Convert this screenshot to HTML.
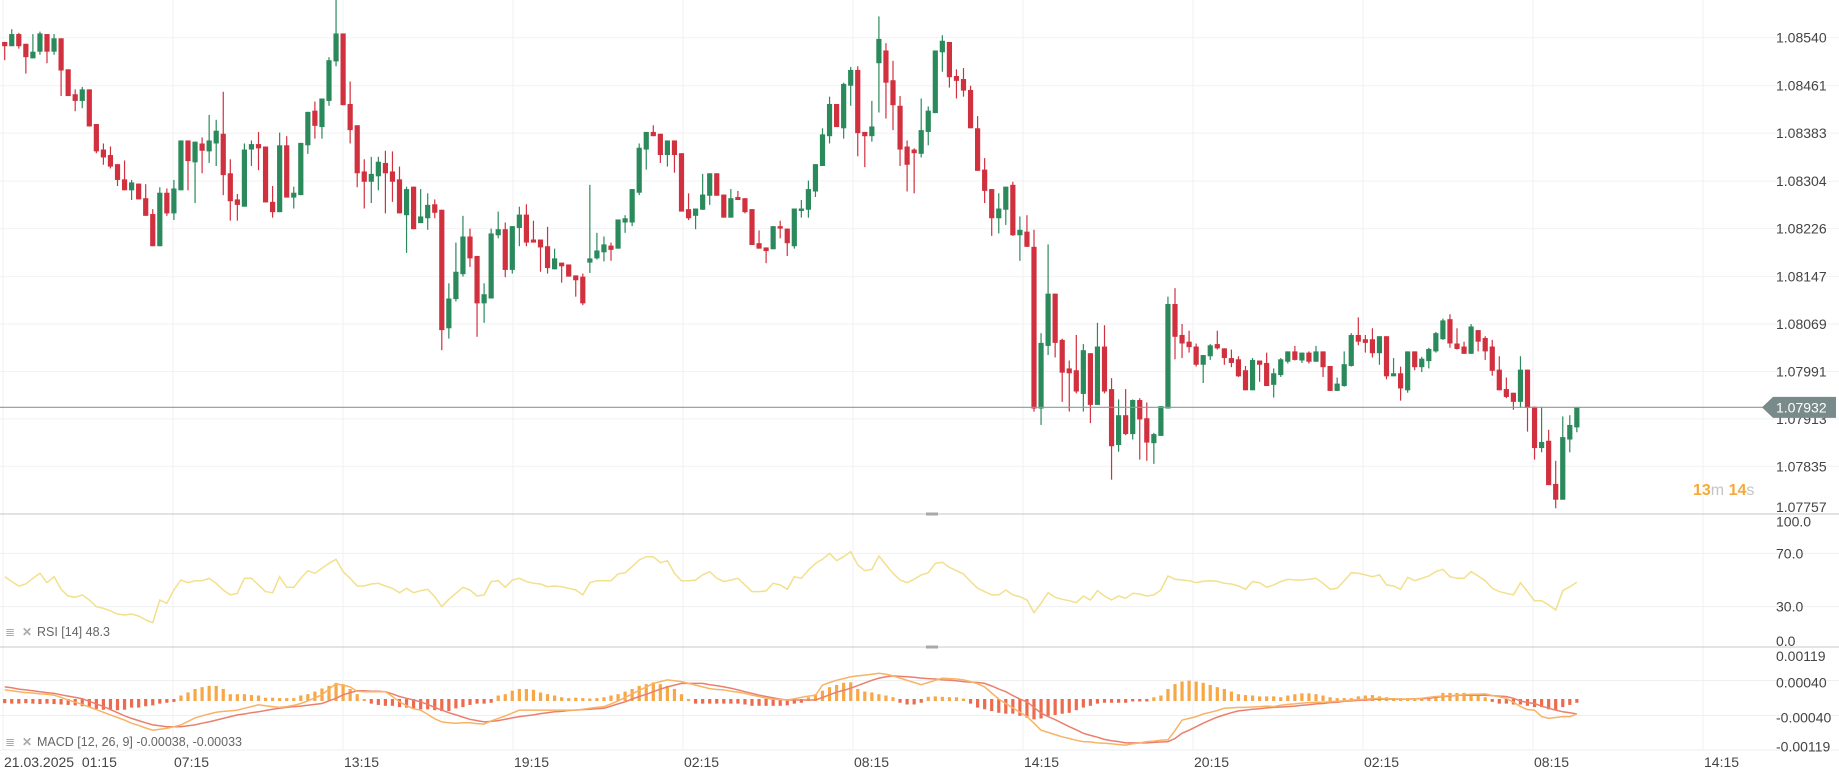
<!DOCTYPE html>
<html><head><meta charset="utf-8"><title>EURUSD chart</title>
<style>
html,body{margin:0;padding:0;background:#fff;}
#chart{position:relative;width:1839px;height:769px;overflow:hidden;font-family:"Liberation Sans",sans-serif;}
svg text{font-family:"Liberation Sans",sans-serif;}
</style></head>
<body>
<div id="chart">
<svg id="svg" width="1839" height="769" viewBox="0 0 1839 769"></svg>
</div>
<script>
const POINT = 1e-5;
const opens = [108533,108526,108546,108530,108506,108517,108546,108517,108539,108488,108447,108436,108455,108398,108356,108347,108332,108307,108289,108300,108276,108250,108197,108285,108251,108289,108371,108335,108366,108353,108366,108382,108317,108274,108262,108356,108365,108361,108270,108253,108363,108277,108281,108363,108420,108393,108436,108501,108547,108431,108396,108320,108303,108312,108334,108320,108307,108248,108295,108235,108243,108266,108257,108062,108110,108151,108213,108181,108103,108111,108215,108225,108158,108227,108249,108208,108208,108197,108159,108170,108167,108149,108147,108170,108177,108187,108198,108193,108236,108236,108285,108356,108385,108382,108347,108371,108350,108258,108247,108257,108280,108317,108282,108244,108278,108276,108258,108202,108195,108192,108230,108226,108197,108255,108257,108287,108329,108378,108431,108391,108461,108487,108385,108378,108498,108519,108470,108428,108361,108356,108349,108385,108416,108516,108533,108477,108472,108454,108391,108323,108291,108243,108257,108298,108215,108221,108196,107930,108033,108119,108043,107996,107993,107954,108021,107936,108032,107962,107870,107919,107888,107944,107914,107873,107885,107930,108102,108051,108040,108032,108002,108016,108036,108029,108013,108011,107993,107960,108009,108005,107969,107985,108007,108024,108009,108022,108007,108024,108000,107959,107967,108000,108051,108044,108044,108021,108049,107983,107988,107960,108024,107998,108008,108024,108044,108077,108037,108032,108020,108059,108046,108032,107994,107962,107956,107941,107994,107933,107865,107877,107806,107780,107879,107899];
const highs = [108533,108554,108548,108530,108546,108550,108546,108546,108539,108488,108455,108459,108455,108398,108366,108361,108332,108338,108306,108300,108299,108258,108294,108292,108306,108371,108371,108369,108376,108413,108405,108451,108340,108283,108366,108371,108385,108361,108296,108384,108378,108295,108367,108418,108435,108440,108508,108610,108547,108468,108396,108340,108344,108344,108354,108353,108328,108295,108295,108291,108284,108274,108257,108136,108203,108247,108226,108181,108136,108226,108254,108236,108230,108262,108266,108239,108208,108229,108193,108170,108167,108149,108152,108298,108219,108213,108203,108241,108248,108291,108366,108385,108396,108382,108371,108371,108350,108284,108259,108316,108317,108317,108282,108291,108288,108276,108258,108223,108195,108230,108239,108226,108259,108273,108305,108332,108391,108443,108431,108466,108492,108493,108385,108436,108575,108531,108502,108444,108371,108358,108440,108427,108519,108544,108533,108488,108490,108461,108411,108342,108291,108284,108295,108303,108246,108248,108224,108054,108200,108119,108045,108009,108051,108036,108021,108071,108067,107980,107945,107962,107945,107947,107940,107890,107934,108114,108128,108069,108058,108037,108018,108036,108058,108029,108027,108016,108000,108013,108009,108022,107996,108013,108024,108033,108022,108024,108033,108024,108000,107981,108024,108054,108080,108051,108062,108049,108049,108013,107999,108024,108024,108015,108030,108056,108078,108085,108062,108040,108069,108059,108049,108043,108016,107981,107956,108016,107994,107933,107933,107895,107844,107917,107919,107932];
const lows = [108503,108526,108522,108481,108506,108512,108498,108512,108444,108444,108419,108424,108394,108350,108331,108325,108296,108289,108273,108274,108247,108197,108197,108247,108240,108289,108289,108268,108317,108334,108329,108281,108239,108239,108262,108329,108322,108269,108244,108253,108277,108259,108281,108349,108374,108374,108428,108493,108429,108366,108294,108259,108268,108289,108251,108270,108251,108186,108225,108235,108224,108243,108026,108045,108106,108147,108163,108048,108071,108111,108210,108146,108152,108197,108197,108203,108155,108152,108159,108137,108147,108114,108100,108153,108175,108172,108173,108193,108219,108230,108281,108323,108378,108334,108328,108318,108254,108240,108225,108257,108265,108280,108244,108244,108273,108251,108199,108193,108169,108192,108210,108181,108193,108244,108244,108278,108329,108366,108393,108374,108428,108345,108327,108369,108417,108407,108388,108329,108287,108284,108343,108363,108416,108484,108458,108440,108443,108391,108321,108268,108214,108218,108232,108214,108173,108196,107925,107903,108018,108014,107941,107925,107955,107925,107906,107936,107955,107813,107859,107886,107879,107846,107844,107839,107885,107930,108011,108013,108022,107999,107972,108010,108027,108002,107998,107982,107960,107960,107974,107967,107948,107982,108004,108009,108005,108004,108007,107982,107959,107959,107966,107999,108034,108022,108014,108002,107978,107983,107943,107956,107993,107990,107996,108022,108043,108030,108027,108020,108020,108024,108010,107984,107960,107947,107928,107931,107892,107846,107858,107804,107766,107780,107858,107891];
const closes = [108526,108546,108526,108508,108517,108547,108517,108539,108486,108444,108436,108455,108394,108353,108343,108328,108306,108289,108302,108274,108247,108197,108285,108251,108292,108371,108337,108369,108354,108371,108387,108314,108271,108265,108356,108365,108358,108269,108253,108363,108277,108285,108367,108418,108395,108440,108503,108547,108429,108388,108317,108303,108316,108336,108317,108303,108251,108291,108225,108246,108265,108252,108059,108111,108155,108213,108177,108103,108118,108218,108225,108158,108230,108249,108203,108203,108195,108161,108177,108164,108147,108141,108103,108177,108190,108200,108191,108241,108243,108291,108359,108385,108378,108347,108371,108347,108254,108243,108259,108282,108317,108280,108244,108276,108273,108253,108199,108193,108189,108230,108226,108202,108259,108259,108291,108332,108381,108431,108393,108464,108487,108383,108378,108394,108538,108466,108429,108356,108331,108350,108388,108420,108519,108535,108475,108469,108453,108391,108321,108288,108243,108259,108295,108215,108224,108196,107930,108038,108119,108038,107989,107988,107958,108026,107936,108032,107958,107868,107919,107888,107944,107912,107874,107888,107934,108102,108048,108037,108031,108002,108018,108034,108029,108013,108005,107983,107960,108010,108002,107967,107988,108011,108024,108010,108022,108007,108024,107998,107959,107971,108003,108051,108040,108038,108021,108049,107983,107988,107963,108024,107998,108012,108028,108054,108075,108037,108028,108020,108065,108040,108024,107992,107960,107949,107941,107994,107931,107865,107875,107804,107780,107883,107903,107932];
const rsiValues = [52.5,48.8,45.5,47,51.3,55,48,52.5,43,38,37,38.8,35,30,28.8,26.8,24.5,23.8,24.5,23,20,18,35,32.5,42.5,50,48,49.5,49.5,51.3,47.5,42.5,38.8,40,51.3,51.3,46.3,41.3,40.5,52.5,44.5,44.5,51.3,57,55,58.8,62.5,65.5,56.3,51.3,45.5,45.5,47,47.5,45.5,43.8,40.5,43.8,40.5,42,43,37.5,30,35.5,40,44.5,42.5,38,38.8,48.8,49.5,44.5,50,51.3,48.8,47.5,47,45,45.5,45,43.8,42.5,38.8,48,49.5,49.5,49.5,54.5,55.5,60,65,67.5,67.5,63,64.5,55,49.3,49.3,50,53.8,56.3,51.3,48.8,50,51.3,46.3,41.3,41.3,41.8,47.5,46.3,43,52.5,51.3,57.5,62.5,65.5,70,64.5,67.5,71.3,61.3,57,58,68,61.3,55,50,48,50.5,53.8,55.5,62.5,63.3,59.5,57,54.5,48.8,43.8,41.3,38.8,38.8,42.5,38.8,37.5,35,25.5,32.5,40.5,37,35.5,34.5,33,38,35,42,38,35,38,36.3,40,39.5,38,38.8,42.5,53,50.5,50,49.5,48,49,49.5,49,47.5,47,45.5,43,48.8,48,44.5,46.3,48.8,50.5,50,50,50.5,51.3,47.5,43,43.8,49.5,55.5,55,53.8,52.5,53.8,46.3,45.5,43,52,49.5,51.3,53,56.3,58,52.5,51.3,51.3,56.3,53,49.5,43.8,41.3,40,38.8,48,41.3,34.5,34.5,31.3,27.5,42,45,48.3];
const MACD_UNIT = 1e-4;
const macdValues = [2.3,2.1,1.9,1.7,1.6,1.4,1.3,1.1,0.6,0,-0.5,-1,-1.6,-2.2,-2.8,-3.4,-4,-4.6,-5.3,-5.8,-6.4,-6.9,-6.7,-6.5,-6.1,-5.7,-4.9,-4.1,-3.6,-3.2,-2.8,-2.6,-2.5,-2.3,-1.9,-1.5,-1.1,-1.3,-1.5,-1.7,-1.5,-1.2,-0.8,-0.2,0.5,1.2,2.5,3.7,3.4,3,2,1.9,1.9,1.9,1.9,0.8,-0.4,-1.3,-2,-2.3,-3.3,-4.3,-5,-5.2,-5.3,-5.2,-5.2,-5.4,-5.5,-4.8,-4.2,-3.6,-3,-2.3,-2.3,-2.3,-2.3,-2.3,-2.3,-2.3,-2.3,-2.3,-2.1,-1.9,-1.7,-1.5,-0.9,-0.2,0.6,1.4,2.2,3,3.8,4.2,4.6,4.4,4.2,3.8,3.4,3,2.6,2.4,2.3,2,1.8,1.5,1.1,0.8,0.4,0.2,0.1,0,0.3,0.6,0.9,1.1,3.4,4,4.5,4.9,5.3,5.5,5.7,5.9,6.1,5.9,5.5,5,4.5,4,3.5,4,4.5,5,4.9,4.8,4.6,4.2,3.7,3,1.6,0.2,-0.8,-1.8,-2.8,-3.8,-5.3,-6.9,-7.4,-7.9,-8.4,-8.8,-9.2,-9.5,-9.6,-9.8,-9.9,-10,-10.2,-10.3,-10,-9.8,-9.5,-9.4,-9.2,-9.1,-7,-4.6,-4.2,-3.8,-3.2,-2.8,-2.4,-1.9,-1.8,-1.7,-1.7,-1.6,-1.5,-1.4,-1.5,-1.2,-1,-0.9,-0.7,-0.6,-0.5,-0.5,-0.4,-0.3,-0.2,0,0.1,0.2,0.3,0.4,0.3,0.3,0.2,0.2,0.3,0.4,0.6,0.8,0.9,1,1.1,1.2,1.3,1.3,1.4,1,0.7,0.4,-0.5,-1.5,-2.2,-2.3,-3.8,-4.2,-4,-3.8,-3.8,-3.2];
const signalValues = [3,2.8,2.5,2.3,2.1,1.9,1.7,1.5,1.2,0.9,0.6,0.3,-0.3,-0.9,-1.5,-2.2,-2.9,-3.6,-4.2,-4.7,-5.2,-5.7,-5.9,-6.1,-6.1,-6.1,-5.9,-5.7,-5.3,-5,-4.6,-4.2,-3.8,-3.4,-3.2,-2.9,-2.7,-2.4,-2.1,-1.9,-1.7,-1.5,-1.4,-1.2,-1,-0.8,-0.2,0.4,1.2,1.7,2.1,2.1,2,2,1.9,1.4,0.8,0.4,0,-0.4,-1,-1.7,-2.3,-2.9,-3.4,-3.9,-4.4,-4.7,-5,-4.9,-4.7,-4.4,-4.1,-3.8,-3.6,-3.4,-3.1,-2.9,-2.7,-2.6,-2.4,-2.3,-2.2,-2.1,-2,-1.9,-1.4,-0.9,-0.4,0.2,0.8,1.3,1.9,2.5,3,3.4,3.8,3.8,3.8,3.8,3.5,3.3,3,2.7,2.3,1.9,1.5,1.1,0.8,0.5,0.2,0,0,0,0,0,0.6,1.2,1.8,2.2,2.7,3.3,3.9,4.5,5,5.3,5.5,5.4,5.3,5.2,5,4.9,4.8,4.6,4.5,4.4,4.2,4.1,4,3.8,3.2,2.5,1.9,1,0.2,-0.4,-1.7,-3,-3.8,-4.5,-5.3,-6.1,-6.8,-7.6,-8.1,-8.5,-9,-9.3,-9.5,-9.8,-9.8,-9.8,-9.8,-9.7,-9.6,-9.5,-8.8,-7.6,-6.9,-6.1,-5.3,-4.6,-3.9,-3.4,-2.9,-2.5,-2.3,-2.1,-2,-1.8,-1.7,-1.6,-1.5,-1.4,-1.2,-1.1,-0.9,-0.8,-0.6,-0.5,-0.3,-0.2,-0.1,0,0.1,0.2,0.2,0.2,0.2,0.2,0.3,0.3,0.4,0.6,0.8,0.9,1.1,1.1,1.1,1.1,1.1,1,0.9,0.8,0.4,-0.2,-0.6,-0.8,-1.4,-1.9,-2.3,-2.7,-2.9,-3.2];
const histValues = [-0.5,-0.6,-0.6,-0.5,-0.6,-0.7,-0.6,-0.7,-0.8,-0.9,-1,-1.2,-1.4,-1.8,-2,-2.1,-2.1,-2,-1.5,-1.5,-1.2,-1,-0.6,-0.4,-0.2,0.8,1.5,2.3,2.7,3,3,2.3,1.1,1.1,1.1,0.9,0.8,0.3,0.3,0.2,0.2,0.2,0.8,1.1,1.7,2.4,3,3.7,3.4,2.3,1.1,0,-0.6,-0.9,-1.1,-1.1,-1.4,-1.5,-1.7,-1.9,-1.9,-2.1,-2.3,-2.3,-1.7,-1.4,-0.9,-0.6,-0.6,-0.4,0.8,1.1,1.9,2.3,2.3,2.1,1.5,1.1,0.8,0.4,0.2,0.3,0.2,0.1,0.2,0.4,0.8,1.1,1.7,2.3,3,3.4,3.8,3.4,3,2.3,1.1,0,-0.6,-0.6,-0.6,-0.6,-0.6,-0.6,-0.6,-0.8,-1.1,-1.1,-1.1,-1.1,-1.1,-1,-0.6,-0.4,0.4,1.1,1.9,2.7,3.2,3.7,3.8,2.3,1.7,1.5,1.1,0.8,0.4,-0.4,-0.8,-0.8,-0.4,0.5,0.6,0.5,0.4,0.4,0.1,-0.6,-1.5,-1.9,-2.3,-2.7,-2.9,-2.9,-3.4,-3.8,-4.2,-4,-3.4,-3.2,-2.9,-2.7,-2.1,-1.5,-1.1,-0.6,-0.4,-0.4,-0.4,-0.4,-0.1,-0.1,-0.1,0.4,0.8,2.3,3.4,4,4.2,4,3.7,3.2,2.7,2.3,1.7,1.1,0.9,0.8,0.6,0.6,0.6,0.4,0.8,1.1,1.3,1.3,1.1,0.8,0.4,0.2,0.2,0.2,0.6,0.8,0.9,0.6,0.4,0.2,0.2,0.2,0.2,0.2,0.2,0.6,1.4,1.4,1.4,1.4,1.1,0.8,0.4,-0.2,-0.6,-0.6,-0.8,-0.8,-1.1,-1.4,-1.4,-1.9,-2.1,-1.4,-0.9,-0.4];
const priceTicks = [1.08540,1.08461,1.08383,1.08304,1.08226,1.08147,1.08069,1.07991,1.07913,1.07835,1.07757];
const rsiTicks = [100,70,30,0];
const macdTicks = [0.00119,0.00040,-0.00040,-0.00119];
const timeLabels = ["21.03.2025  01:15","07:15","13:15","19:15","02:15","08:15","14:15","20:15","02:15","08:15","14:15"];
const currentPrice = 1.07932;

const NS = "http://www.w3.org/2000/svg";
const svg = document.getElementById('svg');
function mk(tag, attrs, parent){const e=document.createElementNS(NS,tag);for(const k in attrs)e.setAttribute(k,attrs[k]);(parent||svg).appendChild(e);return e;}
// axis functions
const xC = i => 4.7 + i*7.05;
const yP = p => 37.7 + (1.0854 - p)*60792;
const yR = v => 646.7 - v*1.334;
const yM = v => 700 - v*43750;
const xGrid = k => 3 + k*170;

// gridlines
const grid = mk('g',{});


for(let k=0;k<timeLabels.length;k++){
  const l=mk('line',{x1:xGrid(k),x2:xGrid(k),y1:0,y2:750,stroke:'#f1f2f4','stroke-width':1},grid);
  
  
}
priceTicks.forEach(p=>{const l=mk('line',{x1:0,x2:1839,y1:yP(p),y2:yP(p),stroke:'#f1f2f4'},grid);
  
  });
[70,30].forEach(v=>{const l=mk('line',{x1:0,x2:1839,y1:yR(v),y2:yR(v),stroke:'#eeeff1'},grid);
  
  });
[0.0004,-0.0004].forEach(v=>{const l=mk('line',{x1:0,x2:1839,y1:yM(v)-2,y2:yM(v)-2,stroke:'#eeeff1'},grid);
  
  });

// panel separators
[514,647,750].forEach((y,i)=>{const l=mk('line',{x1:0,x2:1839,y1:y,y2:y,stroke: i<2?'#d0d3d6':'#f1f2f4','stroke-width':1.2});
  
  });
[514,647].forEach(y=>{const r=mk('rect',{x:926,y:y-1.5,width:12,height:3,fill:'#a9a9a9'});
  
  });

// candles
const cg = mk('g',{});


for(let i=0;i<closes.length;i++){
  const o=opens[i]*POINT,h=highs[i]*POINT,l=lows[i]*POINT,c=closes[i]*POINT;
  const up=c>=o, col=up?'#2b8a5c':'#d1303f';
  const g=mk('g',{},cg);
  
  
  const x=xC(i);
  mk('line',{x1:x,x2:x,y1:yP(h),y2:yP(l),stroke:col,'stroke-width':1.2},g);
  const top=yP(Math.max(o,c)), bot=yP(Math.min(o,c));
  mk('rect',{x:x-2.6,y:top,width:5.2,height:Math.max(1.5,bot-top),fill:col},g);
}

// current price line
const cpl=mk('line',{x1:0,x2:1764,y1:yP(currentPrice),y2:yP(currentPrice),stroke:'#8a9a9a','stroke-width':1.2});



// price axis labels
const pa=mk('g',{});


priceTicks.forEach(p=>{const t=mk('text',{x:1776,y:Math.min(yP(p),507)+5,'font-size':14,fill:'#444'},pa);t.textContent=p.toFixed(5);
  
  });
// current price badge
const cy=yP(currentPrice);
const badge=mk('polygon',{points:`1762,${cy} 1773,${cy-10.5} 1836,${cy-10.5} 1836,${cy+10.5} 1773,${cy+10.5}`,fill:'#798a8a'});


const bt=mk('text',{x:1776,y:cy+5,'font-size':14,fill:'#fff'});bt.textContent=currentPrice.toFixed(5);


// countdown
const cd=mk('text',{x:1693,y:495,'font-size':16,'font-weight':'bold'});


cd.innerHTML='<tspan fill="#f5a93a">13</tspan><tspan fill="#c4c4c4" font-weight="normal">m </tspan><tspan fill="#f5a93a">14</tspan><tspan fill="#c4c4c4" font-weight="normal">s</tspan>';

// RSI
let d='';rsiValues.forEach((v,i)=>{d+=(i?'L':'M')+xC(i).toFixed(1)+' '+yR(v).toFixed(1);});
const rl=mk('path',{d:d,fill:'none',stroke:'#f2e08c','stroke-width':1.5});


rsiTicks.forEach(v=>{const y=Math.min(Math.max(yR(v),521.6),641);const t=mk('text',{x:1776,y:y+5,'font-size':14,fill:'#444'});t.textContent=v.toFixed(1);
  
  });

// MACD histogram
const hg=mk('g',{});


histValues.forEach((v,i)=>{const y0=yM(0),y1=yM(v*MACD_UNIT);const r=mk('rect',{x:xC(i)-1.6,y:Math.min(y0,y1)-1,width:3.2,height:Math.abs(y1-y0)+2,fill:v>=0?'#f7a745':'#ec6b4e'},hg);
  
  });
function linePath(arr){let s='';arr.forEach((v,i)=>{s+=(i?'L':'M')+xC(i).toFixed(1)+' '+yM(v*MACD_UNIT).toFixed(1);});return s;}
const sl=mk('path',{d:linePath(signalValues),fill:'none',stroke:'#e9806e','stroke-width':1.5});


const ml=mk('path',{d:linePath(macdValues),fill:'none',stroke:'#f8b366','stroke-width':1.5});


macdTicks.forEach(v=>{const y=Math.min(Math.max(yM(v),656),746.6);const t=mk('text',{x:1776,y:y+5,'font-size':14,fill:'#444'});t.textContent=v.toFixed(5);
  
  });

// time axis
timeLabels.forEach((s,k)=>{const t=mk('text',{x:xGrid(k)+1,y:767,'font-size':14,fill:'#444','xml:space':'preserve'});t.textContent=s;
  t.style.whiteSpace='pre';
  
  });

// indicator legends
function legend(y,txt,name){
  const g=mk('g',{});
  
  
  const ic=mk('text',{x:5,y:y+5,'font-size':12,fill:'#aaa'},g);ic.textContent='≣';
  
  
  const cl=mk('text',{x:22,y:y+5,'font-size':12,fill:'#aaa','font-weight':'bold'},g);cl.textContent='✕';
  
  
  const t=mk('text',{x:37,y:y+5,'font-size':12.5,fill:'#666'},g);t.textContent=txt;
  
  
}
legend(631,'RSI [14]  48.3','rsi-legend');
legend(741,'MACD [12, 26, 9] -0.00038,  -0.00033','macd-legend');
</script>
</body></html>
